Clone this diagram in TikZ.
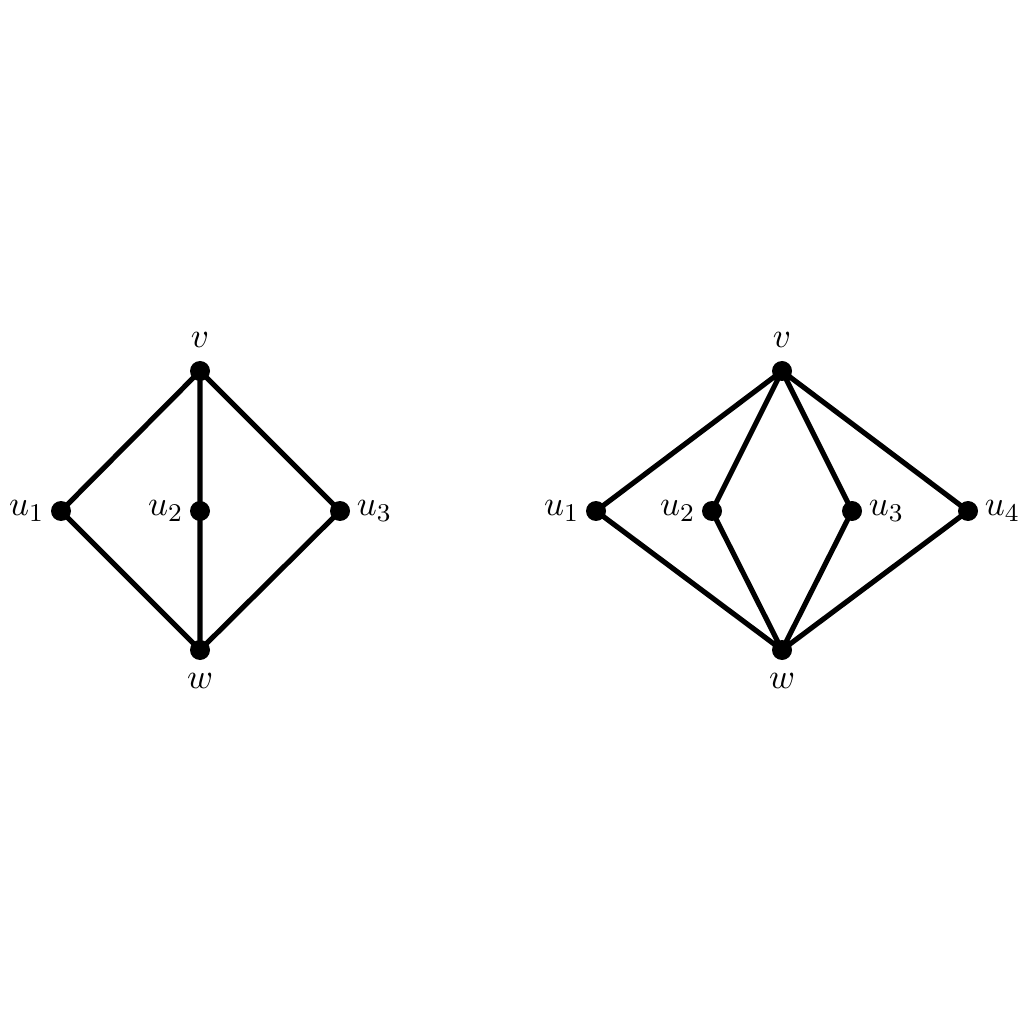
\documentclass[tikz,border=0pt]{standalone}
\begin{document}
\begin{tikzpicture}[x=0.011cm,y=-0.011cm,
  vtx/.style={circle,fill=black,inner sep=0pt,minimum size=0.22cm},
  edge/.style={line width=1.6pt},
  lbl/.style={font=\fontsize{11.2}{13}\selectfont}]
\useasboundingbox (0,0) rectangle (1024,1024);
% left graph
\coordinate (av) at (200,371);
\coordinate (au1) at (61,511);
\coordinate (au2) at (200,511);
\coordinate (au3) at (340,511);
\coordinate (aw) at (200,650);
\draw[edge] (av) -- (au1) -- (aw) -- (au3) -- (av) -- (au2) -- (aw);
\node[vtx] (avd) at (av) {};
\node[vtx] (au1d) at (au1) {};
\node[vtx] (au2d) at (au2) {};
\node[vtx] (au3d) at (au3) {};
\node[vtx] (awd) at (aw) {};
\node[lbl,above=0.13cm] (avl) at (av) {$v$};
\node[lbl,below=0.13cm] (awl) at (aw) {$w$};
\node[lbl,left=0.06cm] (au1l) at (au1) {$u_1$};
\node[lbl,left=0.06cm] (au2l) at (au2) {$u_2$};
\node[lbl,right=0.06cm] (au3l) at (au3) {$u_3$};
% right graph
\coordinate (bv) at (782,371);
\coordinate (bu1) at (596,511);
\coordinate (bu2) at (712,511);
\coordinate (bu3) at (852,511);
\coordinate (bu4) at (968,511);
\coordinate (bw) at (782,650);
\draw[edge] (bv) -- (bu1) -- (bw) -- (bu4) -- (bv) -- (bu2) -- (bw) -- (bu3) -- (bv);
\node[vtx] (bvd) at (bv) {};
\node[vtx] (bu1d) at (bu1) {};
\node[vtx] (bu2d) at (bu2) {};
\node[vtx] (bu3d) at (bu3) {};
\node[vtx] (bu4d) at (bu4) {};
\node[vtx] (bwd) at (bw) {};
\node[lbl,above=0.13cm] (bvl) at (bv) {$v$};
\node[lbl,below=0.13cm] (bwl) at (bw) {$w$};
\node[lbl,left=0.06cm] (bu1l) at (bu1) {$u_1$};
\node[lbl,left=0.06cm] (bu2l) at (bu2) {$u_2$};
\node[lbl,right=0.06cm] (bu3l) at (bu3) {$u_3$};
\node[lbl,right=0.06cm] (bu4l) at (bu4) {$u_4$};
\end{tikzpicture}
\end{document}
